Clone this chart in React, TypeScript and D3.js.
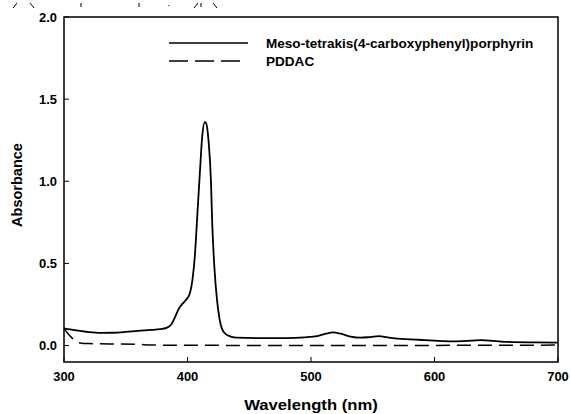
import React, { useEffect, useRef } from 'react';
import * as d3 from 'd3';

// Meso-tetrakis(4-carboxyphenyl)porphyrin spectrum
const tcppWavelength = [
  300, 305, 310, 320, 330, 340, 350, 360, 370, 378, 383, 387, 390, 393, 396, 399, 402, 404, 406, 408,
  410, 412, 414, 415, 417, 419, 420, 422, 424, 426, 428, 431, 435, 440, 460, 480, 495, 505, 512, 518,
  524, 532, 540, 548, 555, 562, 570, 580, 590, 600, 615, 630, 638, 648, 660, 680, 700,
];
const tcppAbsorbance = [
  0.105, 0.098, 0.092, 0.082, 0.077, 0.078, 0.083, 0.09, 0.095, 0.1, 0.108, 0.13, 0.175, 0.225, 0.255,
  0.28, 0.32, 0.4, 0.55, 0.8, 1.05, 1.28, 1.36, 1.355, 1.25, 1.0, 0.75, 0.45, 0.27, 0.16, 0.1, 0.07,
  0.055, 0.048, 0.045, 0.045, 0.05, 0.058, 0.072, 0.08, 0.072, 0.055, 0.048, 0.052, 0.057, 0.05, 0.042,
  0.038, 0.034, 0.03, 0.026, 0.03, 0.033, 0.028, 0.022, 0.019, 0.018,
];

// PDDAC spectrum
const pddacWavelength = [300, 303, 306, 309, 312, 320, 340, 360, 370, 400, 500, 600, 700];
const pddacAbsorbance = [0.105, 0.075, 0.05, 0.03, 0.018, 0.012, 0.01, 0.008, 0.003, 0.002, 0.0, 0.001, 0.003];

const xTicks = [300, 400, 500, 600, 700];
const yTicks = [0.0, 0.5, 1.0, 1.5, 2.0];
const seriesNames = ['Meso-tetrakis(4-carboxyphenyl)porphyrin', 'PDDAC'];

const App = () => {
  const ref = useRef<SVGSVGElement | null>(null);

  useEffect(() => {
    const svg = d3.select(ref.current);
    svg.selectAll('*').remove();

    const left = 64, right = 558, top = 17, bottom = 362;
    const x = d3.scaleLinear().domain([300, 700]).range([left, right]);
    const y = d3.scaleLinear().domain([-0.1, 2.0]).range([bottom, top]);
    const font = 'Liberation Sans, Arial, sans-serif';

    // text in the original is a little wider than it is tall
    const label = (tx: number, ty: number, size: number, sx: number, anchor: string, str: string) =>
      svg.append('text')
        .attr('transform', `translate(${tx},${ty}) scale(${sx},1)`)
        .attr('text-anchor', anchor)
        .attr('font-family', font).attr('font-weight', 'bold').attr('font-size', size)
        .text(str);

    // fragments of the figure above, cut off at the top edge
    const frag = svg.append('g').attr('stroke', '#000').attr('stroke-width', 1);
    [
      [13, 8, 17, 3], [30, 3, 34, 8], [81, 3, 81, 7], [139, 3, 139, 7], [169, 5, 169, 6],
      [194, 8, 198, 3], [201, 3, 201, 7], [213, 3, 217, 8],
    ].forEach(([x1, y1, x2, y2]) =>
      frag.append('line').attr('x1', x1).attr('y1', y1).attr('x2', x2).attr('y2', y2));

    // frame
    svg.append('rect')
      .attr('x', left).attr('y', top)
      .attr('width', right - left).attr('height', bottom - top)
      .attr('fill', 'none').attr('stroke', '#000').attr('stroke-width', 1.5);

    // x ticks (inward)
    xTicks.forEach((t) => {
      svg.append('line')
        .attr('x1', x(t)).attr('x2', x(t))
        .attr('y1', bottom).attr('y2', bottom - 5)
        .attr('stroke', '#000').attr('stroke-width', 1);
      label(x(t), 381, 12, 1.08, 'middle', String(t));
    });

    // y ticks (inward)
    yTicks.forEach((t) => {
      svg.append('line')
        .attr('x1', left).attr('x2', left + 5)
        .attr('y1', y(t)).attr('y2', y(t))
        .attr('stroke', '#000').attr('stroke-width', 1);
      label(57, y(t) + 4.5, 12, 1.08, 'end', d3.format('.1f')(t));
    });

    // axis titles
    label(x(500), 410, 14.5, 1.15, 'middle', 'Wavelength (nm)');
    svg.append('text')
      .attr('transform', 'translate(22,185) rotate(-90)')
      .attr('text-anchor', 'middle')
      .attr('font-family', font).attr('font-weight', 'bold').attr('font-size', 14.5)
      .text('Absorbance');

    const tcpp = tcppWavelength.map((w, i) => [x(w), y(tcppAbsorbance[i])] as [number, number]);
    const pddac = pddacWavelength.map((w, i) => [x(w), y(pddacAbsorbance[i])] as [number, number]);
    const path = d3.line().curve(d3.curveMonotoneX);

    svg.append('path')
      .attr('d', path(pddac))
      .attr('fill', 'none').attr('stroke', '#000').attr('stroke-width', 1.5)
      .attr('stroke-dasharray', '14,7');
    svg.append('path')
      .attr('d', path(tcpp))
      .attr('fill', 'none').attr('stroke', '#000').attr('stroke-width', 1.8);

    // legend
    svg.append('line').attr('x1', 169).attr('x2', 248).attr('y1', 43).attr('y2', 43)
      .attr('stroke', '#000').attr('stroke-width', 1.5);
    svg.append('line').attr('x1', 169).attr('x2', 240).attr('y1', 61).attr('y2', 61)
      .attr('stroke', '#000').attr('stroke-width', 1.5).attr('stroke-dasharray', '19,7');
    seriesNames.forEach((name, i) => {
      label(266, 47.5 + i * 18, 12, 1.13, 'start', name);
    });
  }, []);

  return (
    <div style={{ position: 'absolute', left: 0, top: 0 }}>
      <svg ref={ref} width={571} height={414} style={{ display: 'block', background: '#fff' }} />
    </div>
  );
};

export default App;
